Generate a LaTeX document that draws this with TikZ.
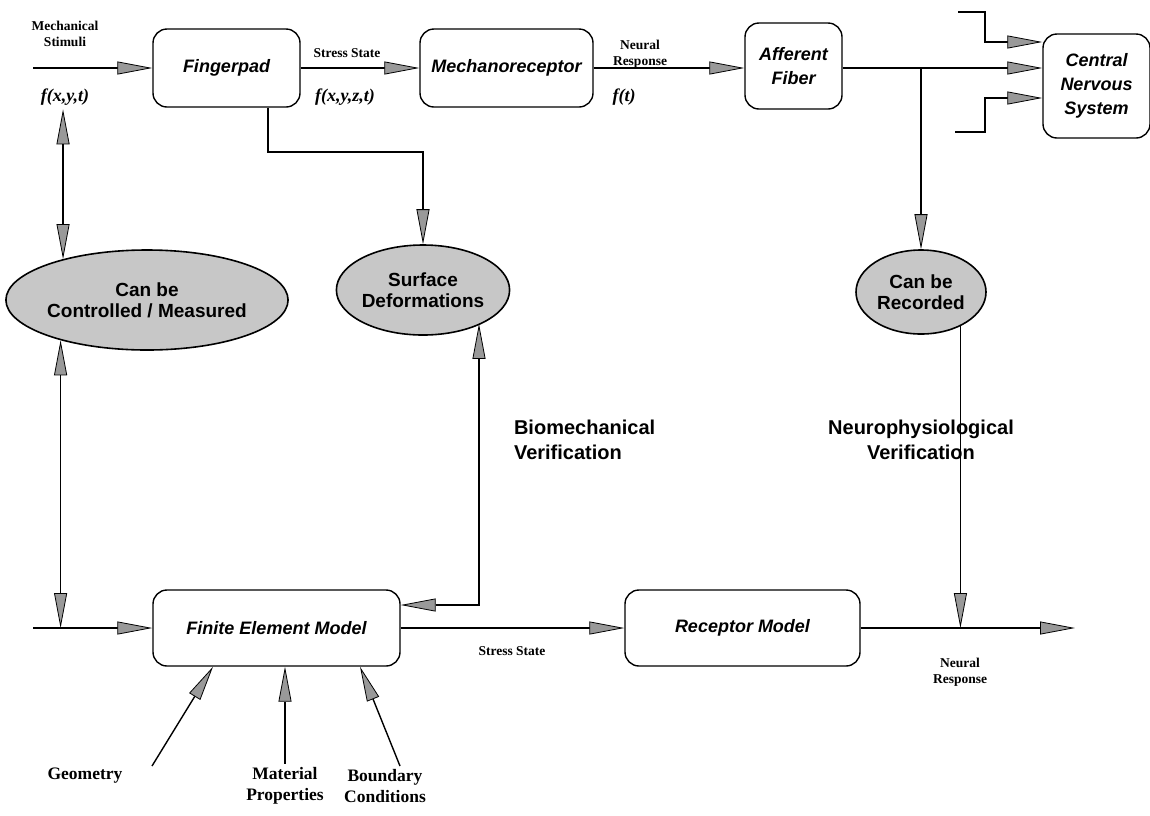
\documentclass[tikz,border=0pt]{standalone}
\usepackage{fontspec}
\setmainfont{Liberation Serif}
\newfontfamily\hvfont{Liberation Sans}
\usetikzlibrary{arrows.meta,shapes.geometric}

\begin{document}
\begin{tikzpicture}[x=1pt,y=-1pt,line width=1.4pt,
  >={Triangle[length=35pt,width=13pt,fill=black!40,line width=0.8pt]},
  blk/.style={draw,rounded corners=14pt,align=center,inner sep=0pt,
    font=\hvfont\bfseries\itshape\fontsize{18}{24}\selectfont},
  oval/.style={draw,line width=1.6pt,ellipse,fill=black!22,align=center,inner sep=0pt,
    font=\hvfont\bfseries\fontsize{19}{21}\selectfont},
  lbl/.style={align=center,font=\bfseries\fontsize{13.5}{16}\selectfont},
  fn/.style={font=\bfseries\itshape\fontsize{18}{21}\selectfont},
  inp/.style={align=center,font=\bfseries\fontsize{17.5}{21}\selectfont},
  ver/.style={align=left,font=\hvfont\bfseries\fontsize{20}{25}\selectfont}]
\useasboundingbox (0,0) rectangle (1150,815);

% upper chain
\node[blk,minimum width=147pt,minimum height=78pt] (finger) at (226.5,68) {Fingerpad};
\node[blk,minimum width=173pt,minimum height=78pt] (mech) at (506.5,68) {Mechanoreceptor};
\node[blk,minimum width=97pt,minimum height=86pt] (aff) at (793.5,66) {Afferent\\Fiber};
\node[blk,minimum width=107pt,minimum height=104pt] (cns) at (1096.5,86) {Central\\Nervous\\System};

\node[lbl] (stim) at (65,34) {Mechanical\\Stimuli};
\node[fn] (fxyt) at (65,97) {f(x,y,t)};
\node[lbl] (sst) at (347,53) {Stress State};
\node[fn] (fxyzt) at (345,97) {f(x,y,z,t)};
\node[lbl] (nres) at (640,54) {Neural\\Response};
\node[fn] (ft) at (624,97) {f(t)};

\coordinate (in1) at (33,68);
\draw[->] (in1) -- (finger.west);
\draw[->] (finger.east) -- (mech.west);
\draw[->] (mech.east) -- (mech.east -| aff.west);
\draw[->] (mech.east -| aff.east) -- (mech.east -| cns.west);

% other inputs to the CNS
\coordinate (tin) at (958,12);
\coordinate (tbend) at (985,42);
\coordinate (bin) at (955,132);
\coordinate (bbend) at (985,98);
\draw[->] (tin) -| (tbend) -- (tbend -| cns.west);
\draw[->] (bin) -| (bbend) -- (bbend -| cns.west);

% what can be observed
\node[oval,minimum width=275pt,minimum height=100pt] (ctrl) at (147,300) {Can be\\Controlled / Measured};
\node[oval,minimum width=160pt,minimum height=90pt] (surf) at (423,290) {Surface\\Deformations};
\node[oval,minimum width=130pt,minimum height=84pt] (rec) at (921,292) {Can be\\Recorded};

\coordinate (fp) at (268,152);
\draw[->] (finger.south -| fp) -- (fp) -| (surf.north);
\draw[->] (mech.east -| rec.north) -- (rec.north);
\draw[<->] (fxyt.south -| ctrl.154.8) -- (ctrl.154.8);

% model chain
\node[blk,minimum width=247pt,minimum height=76pt] (fem) at (276.5,628) {Finite Element Model};
\node[blk,minimum width=235pt,minimum height=76pt] (rcp) at (742.5,628) {Receptor Model};

\coordinate (in2) at (33,628);
\coordinate (out) at (1075,628);
\draw[->] (in2) -- (fem.west);
\draw[->] (fem.east) -- (rcp.west);
\draw[->] (rcp.east) -- (out);
\node[lbl] (sst2) at (512,651) {Stress State};
\node[lbl] (nres2) at (960,672) {Neural\\Response};

\draw[<->] (ctrl.205.2) -- (ctrl.205.2 |- fem.west);
\coordinate (ret) at (479,605);
\draw[<->] (fem.east |- ret) -- (ret) -- (ret |- surf.330.2);
\draw[->] (rec.319.3) -- (rec.319.3 |- rcp.east);

\node[ver,anchor=west] (bver) at (510,440) {Biomechanical\\Verification};
\node[ver,align=center] (nver) at (921,440) {Neurophysiological\\Verification};

% model inputs
\node[inp] (geo) at (85,776) {Geometry};
\node[inp] (mat) at (285,786) {Material\\Properties};
\node[inp] (bnd) at (385,786) {Boundary\\Conditions};
\coordinate (g0) at (152,766);
\coordinate (b0) at (400,766);
\draw[->] (g0) -- ([xshift=-63.5pt]fem.south);
\draw[->] (mat.north) -- (fem.south -| mat.north);
\draw[->] (b0) -- ([xshift=83.5pt]fem.south);
\end{tikzpicture}
\end{document}
